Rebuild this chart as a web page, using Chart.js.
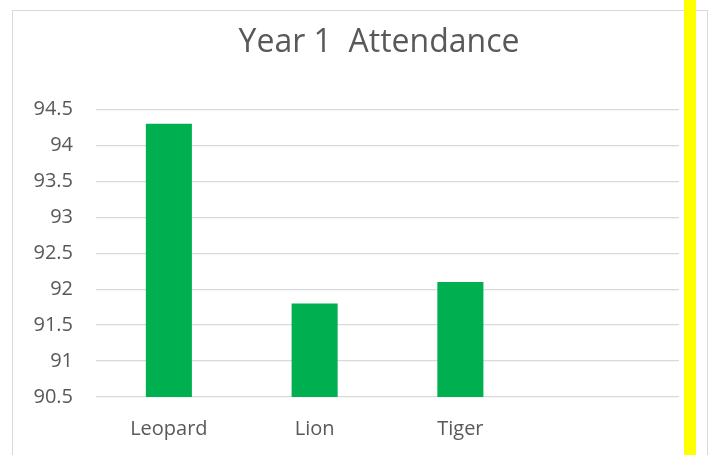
<!DOCTYPE html>
<html>
<head>
<meta charset="utf-8">
<script src="https://cdn.jsdelivr.net/npm/chart.js@4"></script>
<style>
  html, body { margin: 0; padding: 0; background: #fff; }
  #wrap { position: relative; width: 710px; height: 455px; overflow: hidden; }
  #frame { position: absolute; left: 12px; top: 10px; width: 696px; height: 460px; border: 1px solid #d9d9d9; box-sizing: border-box; }
  #stripe { position: absolute; left: 684px; top: 0; width: 12px; height: 455px; background: #ffff00; }
  canvas { position: absolute; left: 0; top: 0; }
</style>
</head>
<body>
<div id="wrap">
  <div id="frame"></div>
  <canvas id="chart" width="710" height="455"></canvas>
  <div id="stripe"></div>
</div>
<script>
const classes = ['Leopard', 'Lion', 'Tiger', ''];
const attendance = [94.3, 91.8, 92.1, null];
const yMin = 90.5;
const yMax = 94.5;
const yStep = 0.5;

const textGrey = '#595959';

// the title in the original sits a little left of the plot centre
const titleShift = {
    id: 'titleShift',
    afterLayout(chart) {
        const t = chart.titleBlock;
        t.left -= 8.5;
        t.right -= 8.5;
    }
};

new Chart(document.querySelector('#chart').getContext('2d'), {
    type: 'bar',
    data: {
        labels: classes,
        datasets: [{
            label: 'Attendance',
            data: attendance,
            backgroundColor: '#00b050',
            borderWidth: 0,
            barPercentage: 1,
            categoryPercentage: 0.316
        }]
    },
    plugins: [titleShift],
    options: {
        responsive: false,
        animation: false,
        layout: { padding: { left: 12, right: 31, top: 0, bottom: 15 } },
        plugins: {
            legend: { display: false },
            tooltip: { enabled: false },
            title: {
                display: true,
                fullSize: false,
                text: 'Year 1  Attendance',
                color: textGrey,
                font: { family: 'Open Sans', size: 32, weight: 'normal', lineHeight: 1.2 },
                padding: { top: 24, bottom: 47 }
            }
        },
        scales: {
            x: {
                afterFit: scale => { scale.height = 43; },
                grid: { display: false, drawTicks: false },
                border: { display: false },
                ticks: {
                    color: textGrey,
                    padding: 20,
                    font: { family: 'Open Sans', size: 20 }
                }
            },
            y: {
                min: yMin,
                max: yMax,
                afterFit: scale => { scale.width = 84; },
                grid: { color: '#d9d9d9', lineWidth: 1.3, drawTicks: false },
                border: { display: false },
                ticks: {
                    stepSize: yStep,
                    color: textGrey,
                    padding: 23,
                    font: { family: 'Open Sans', size: 20 },
                    callback: value => String(value)
                }
            }
        }
    }
});
</script>
</body>
</html>
